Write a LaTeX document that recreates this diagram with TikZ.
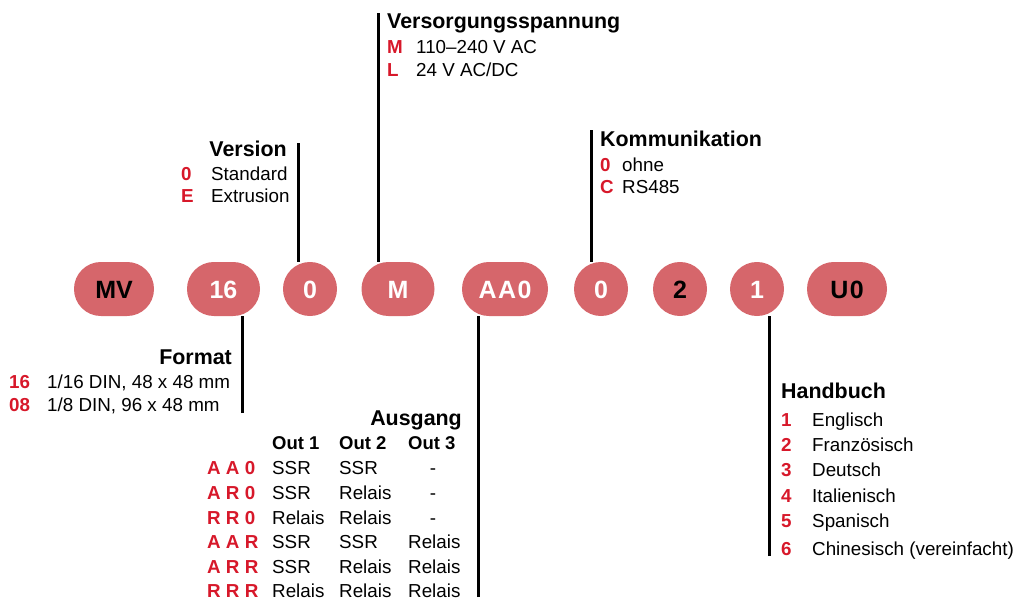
\documentclass[tikz,border=0pt]{standalone}
\usepackage{fontspec}
\setmainfont{Liberation Sans}
\definecolor{pillc}{HTML}{D6666B}
\definecolor{codered}{HTML}{D7182A}
\begin{document}
\begin{tikzpicture}[x=1pt,y=-1pt,
  pillbox/.style={fill=pillc, rounded corners=26.9pt, minimum height=54pt, inner sep=0pt,
    font=\fontsize{25}{25}\selectfont\bfseries, text height=18pt, text depth=0pt},
  ln/.style={line width=3pt},
  txt/.style={inner sep=0pt, anchor=base west, font=\fontsize{18.8}{22}\selectfont},
  code/.style={inner sep=0pt, anchor=base west, font=\fontsize{18.8}{22}\selectfont\bfseries, text=codered},
  hdr/.style={inner sep=0pt, anchor=base west, font=\fontsize{21.4}{24}\selectfont\bfseries},
  hdrr/.style={inner sep=0pt, anchor=base east, font=\fontsize{21.4}{24}\selectfont\bfseries},
  colh/.style={inner sep=0pt, anchor=base west, font=\fontsize{18.5}{22}\selectfont\bfseries}]
\useasboundingbox (0,0) rectangle (1016,597);

% pills
\node[pillbox, minimum width=80pt, text=black] (mv) at (114,289) {MV};
\node[pillbox, minimum width=73pt, text=white] (p16) at (223.5,289) {16};
\node[pillbox, minimum width=54pt, text=white] (pv) at (310,289) {0};
\node[pillbox, minimum width=73pt, text=white] (pm) at (398,289) {M};
\node[pillbox, minimum width=86pt, text=white] (paa) at (505,289) {A\kern1.5pt A\kern1.5pt 0};
\node[pillbox, minimum width=54pt, text=white] (pk) at (601,289) {0};
\node[pillbox, minimum width=54pt, text=black] (p2) at (680,289) {2};
\node[pillbox, minimum width=54pt, text=white] (ph) at (757,289) {1};
\node[pillbox, minimum width=80pt, text=black] (pu) at (847,289) {U\kern1.5pt 0};

% connector ends
\coordinate (vtop) at (298,143);
\coordinate (stop) at (378,13);
\coordinate (ktop) at (591,130);
\coordinate (fbot) at (242,413);
\coordinate (abot) at (478,597);
\coordinate (hbot) at (769,556);

\draw[ln] (vtop) -- (vtop |- pv.north);
\draw[ln] (stop) -- (stop |- pm.north);
\draw[ln] (ktop) -- (ktop |- pk.north);
\draw[ln] (fbot) -- (fbot |- p16.south);
\draw[ln] (abot) -- (abot |- paa.south);
\draw[ln] (hbot) -- (hbot |- ph.south);

% Versorgungsspannung
\node[hdr] (sh) at (387,28) {Versorgungsspannung};
\node[code] (sm) at (387,53) {M};
\node[txt] (smt) at (416,53) {110–240 V AC};
\node[code] (sl) at (387,76) {L};
\node[txt] (slt) at (416,76) {24 V AC/DC};

% Version
\node[hdrr] (vh) at (287,156) {Version};
\node[code] (v0) at (181,180) {0};
\node[txt] (v0t) at (211,180) {Standard};
\node[code] (ve) at (181,202) {E};
\node[txt] (vet) at (211,202) {Extrusion};

% Kommunikation
\node[hdr] (kh) at (600,146) {Kommunikation};
\node[code] (k0) at (600,171) {0};
\node[txt] (k0t) at (622,171) {ohne};
\node[code] (kc) at (600,193) {C};
\node[txt] (kct) at (622,193) {RS485};

% Format
\node[hdrr] (fh) at (232,364) {Format};
\node[code] (f16) at (9,388) {16};
\node[txt] (f16t) at (47,388) {1/16 DIN, 48 x 48 mm};
\node[code] (f08) at (9,411) {08};
\node[txt] (f08t) at (47,411) {1/8 DIN, 96 x 48 mm};

% Ausgang
\node[hdrr] (ah) at (462,425) {Ausgang};
\node[colh] (o1) at (272,449) {Out 1};
\node[colh] (o2) at (339,449) {Out 2};
\node[colh] (o3) at (408,449) {Out 3};
\foreach \y/\c/\a/\b [count=\i] in {
  474/A A 0/SSR/SSR,
  499/A R 0/SSR/Relais,
  524/R R 0/Relais/Relais,
  548/A A R/SSR/SSR,
  573/A R R/SSR/Relais,
  597/R R R/Relais/Relais}{
  \node[code] (ac\i) at (207,\y) {\c};
  \node[txt] (aa\i) at (272,\y) {\a};
  \node[txt] (ab\i) at (339,\y) {\b};
}
\node[txt, anchor=base] (ad1) at (433,474) {-};
\node[txt, anchor=base] (ad2) at (433,499) {-};
\node[txt, anchor=base] (ad3) at (433,524) {-};
\node[txt] (ad4) at (408,548) {Relais};
\node[txt] (ad5) at (408,573) {Relais};
\node[txt] (ad6) at (408,597) {Relais};

% Handbuch
\node[hdr] (hh) at (781,398) {Handbuch};
\foreach \y/\n/\t [count=\i] in {
  426/1/Englisch, 451/2/Französisch, 476/3/Deutsch,
  502/4/Italienisch, 527/5/Spanisch, 555/6/Chinesisch (vereinfacht)}{
  \node[code] (hn\i) at (781,\y) {\n};
  \node[txt] (ht\i) at (812,\y) {\t};
}
\end{tikzpicture}
\end{document}
